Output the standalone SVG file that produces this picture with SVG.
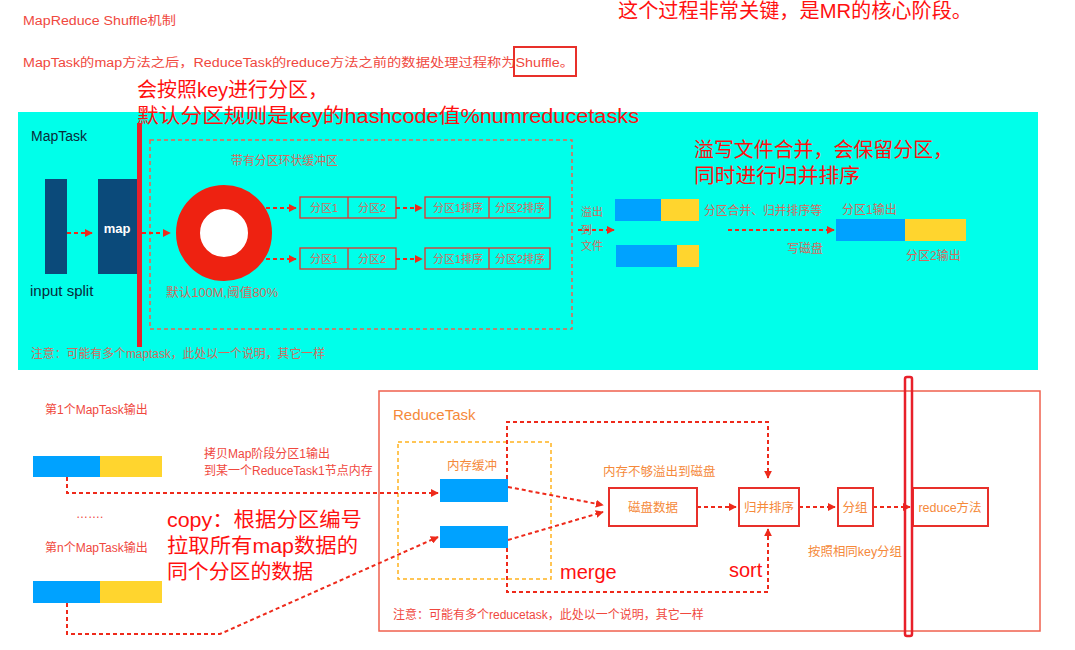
<svg xmlns="http://www.w3.org/2000/svg" width="1075" height="650" viewBox="0 0 1075 650">
<defs>
<marker id="ah" viewBox="0 0 10 10" refX="9" refY="5" markerWidth="4" markerHeight="4" orient="auto" markerUnits="strokeWidth">
<path d="M0,0 L10,5 L0,10 z" fill="#ee2a1b"/>
</marker>
</defs>
<style>
text{font-family:"Liberation Sans","Noto Sans CJK SC",sans-serif}
.sm{font-size:12px;fill:#f0483e}
.big{font-size:20px;fill:#ff1010}
.mut{font-size:12px;fill:#d46a5e}
.pt{font-size:11px;fill:#d46a5e}
.or{font-size:12.5px;fill:#f5893a}
.dash{fill:none;stroke:#ee2a1b;stroke-width:2;stroke-dasharray:4 3}
.pbox{fill:none;stroke:#e8302a;stroke-width:1.3}
.rbox{fill:#fff;stroke:#e8302a;stroke-width:2}
.blue{fill:#00a2ff}
.yel{fill:#ffd52e}
.dk{fill:#0b4a7a}
</style>
<rect width="1075" height="650" fill="#fff"/>

<g id="header">
<text x="23" y="25" class="sm" font-size="14" textLength="153" lengthAdjust="spacingAndGlyphs">MapReduce Shuffle机制</text>
<text x="23" y="67" class="sm" font-size="14" textLength="551" lengthAdjust="spacingAndGlyphs">MapTask的map方法之后，ReduceTask的reduce方法之前的数据处理过程称为Shuffle。</text>
<rect x="514" y="47" width="62" height="29" fill="none" stroke="#e8302a" stroke-width="2"/>
<text x="618" y="18" class="big" font-size="19" textLength="354" lengthAdjust="spacingAndGlyphs">这个过程非常关键，是MR的核心阶段。</text>
</g>

<g id="maptask-area">
<rect x="18" y="112" width="1020" height="258" fill="#00ffea"/>
<text x="31" y="141" font-size="14" fill="#0a2a3a">MapTask</text>
<text x="31" y="358" class="mut" font-size="11" textLength="294" lengthAdjust="spacingAndGlyphs">注意：可能有多个maptask，此处以一个说明，其它一样</text>
</g>

<g id="partition-note">
<text x="137" y="97" class="big" textLength="191" lengthAdjust="spacingAndGlyphs">会按照key进行分区，</text>
<text x="137" y="123" class="big" textLength="502" lengthAdjust="spacingAndGlyphs">默认分区规则是key的hashcode值%numreducetasks</text>
</g>

<g id="input-split">
<rect x="45" y="179" width="22" height="95" class="dk"/>
<text x="30" y="296" font-size="15" fill="#0a2a3a">input split</text>
</g>
<g id="map">
<rect x="98" y="179" width="40" height="95" class="dk"/>
<text x="117" y="233" font-size="13" font-weight="bold" fill="#fff" text-anchor="middle">map</text>
</g>
<g id="red-bar">
<rect x="137" y="123" width="5" height="224" fill="#e8202a"/>
</g>

<g id="ring-buffer">
<rect x="150" y="140" width="422" height="189" fill="none" stroke="#f0604e" stroke-width="1.5" stroke-dasharray="4 3"/>
<text x="231" y="165" class="mut" textLength="107" lengthAdjust="spacingAndGlyphs">带有分区环状缓冲区</text>
<circle cx="224" cy="233" r="36" fill="#fff" stroke="#ee2211" stroke-width="24"/>
<text x="166" y="297" class="mut" textLength="112" lengthAdjust="spacingAndGlyphs">默认100M,阈值80%</text>
</g>

<g id="partitions">
<rect x="300" y="197" width="96" height="21" class="pbox"/><line x1="348" y1="197" x2="348" y2="218" stroke="#e8302a" stroke-width="1.3"/>
<text x="324" y="211.5" class="pt" text-anchor="middle">分区1</text><text x="372" y="211.5" class="pt" text-anchor="middle">分区2</text>
<rect x="300" y="248" width="96" height="21" class="pbox"/><line x1="348" y1="248" x2="348" y2="269" stroke="#e8302a" stroke-width="1.3"/>
<text x="324" y="262.5" class="pt" text-anchor="middle">分区1</text><text x="372" y="262.5" class="pt" text-anchor="middle">分区2</text>
</g>
<g id="sorted">
<rect x="425" y="197" width="125" height="21" class="pbox"/><line x1="489" y1="197" x2="489" y2="218" stroke="#e8302a" stroke-width="1.3"/>
<text x="458" y="211.5" class="pt" text-anchor="middle">分区1排序</text><text x="520" y="211.5" class="pt" text-anchor="middle">分区2排序</text>
<rect x="425" y="248" width="125" height="21" class="pbox"/><line x1="489" y1="248" x2="489" y2="269" stroke="#e8302a" stroke-width="1.3"/>
<text x="458" y="262.5" class="pt" text-anchor="middle">分区1排序</text><text x="520" y="262.5" class="pt" text-anchor="middle">分区2排序</text>
</g>

<g id="spill-files">
<text x="581" y="216" class="pt">溢出</text>
<text x="581" y="234" class="pt">到</text>
<text x="581" y="250" class="pt">文件</text>
<rect x="615" y="199" width="46" height="22" class="blue"/><rect x="661" y="199" width="38" height="22" class="yel"/>
<rect x="616" y="245" width="61" height="22" class="blue"/><rect x="677" y="245" width="22" height="22" class="yel"/>
<text x="704" y="215" class="mut" textLength="118" lengthAdjust="spacingAndGlyphs">分区合并、归并排序等</text>
<text x="787" y="253" class="mut">写磁盘</text>
</g>
<g id="merge-note">
<text x="694" y="157" class="big" font-size="19" textLength="259" lengthAdjust="spacingAndGlyphs">溢写文件合并，会保留分区，</text>
<text x="694" y="183" class="big" font-size="19" textLength="166" lengthAdjust="spacingAndGlyphs">同时进行归并排序</text>
</g>
<g id="output">
<text x="842" y="214" class="mut">分区1输出</text>
<rect x="836" y="219" width="69" height="22" class="blue"/><rect x="905" y="219" width="61" height="22" class="yel"/>
<text x="906" y="260" class="mut">分区2输出</text>
</g>

<g id="map-outputs">
<text x="45" y="414" class="sm" font-size="11">第1个MapTask输出</text>
<rect x="33" y="456" width="67" height="21" class="blue"/><rect x="100" y="456" width="62" height="21" class="yel"/>
<text x="76" y="518" class="sm" font-size="11">…….</text>
<text x="45" y="552" class="sm" font-size="11">第n个MapTask输出</text>
<rect x="33" y="581" width="67" height="22" class="blue"/><rect x="100" y="581" width="62" height="22" class="yel"/>
<text x="204" y="458" class="sm" font-size="11">拷贝Map阶段分区1输出</text>
<text x="204" y="475" class="sm" font-size="11">到某一个ReduceTask1节点内存</text>
</g>
<g id="copy-note">
<text x="167" y="527" class="big" textLength="195" lengthAdjust="spacingAndGlyphs">copy：根据分区编号</text>
<text x="167" y="553" class="big" textLength="191" lengthAdjust="spacingAndGlyphs">拉取所有map数据的</text>
<text x="167" y="579" class="big" textLength="146" lengthAdjust="spacingAndGlyphs">同个分区的数据</text>
</g>

<g id="reducetask">
<rect x="379" y="391" width="661" height="240" fill="none" stroke="#f0604e" stroke-width="1.5"/>
<text x="393" y="420" font-size="15" fill="#f5893a">ReduceTask</text>
<text x="393" y="619" class="sm" font-size="11">注意：可能有多个reducetask，此处以一个说明，其它一样</text>
</g>
<g id="mem-buffer">
<rect x="398" y="442" width="153" height="137" fill="none" stroke="#ffb21e" stroke-width="1.5" stroke-dasharray="4 3"/>
<text x="447" y="470" class="or">内存缓冲</text>
</g>

<g id="connectors">
<path d="M67,233 H92" class="dash" marker-end="url(#ah)"/>
<path d="M142,233 H170" class="dash" marker-end="url(#ah)"/>
<path d="M266,208 H296" class="dash" marker-end="url(#ah)"/>
<path d="M266,259 H296" class="dash" marker-end="url(#ah)"/>
<path d="M396,208 H422" class="dash" marker-end="url(#ah)"/>
<path d="M396,259 H422" class="dash" marker-end="url(#ah)"/>
<path d="M578,230 H614" class="dash" marker-end="url(#ah)"/>
<path d="M728,230 H834" class="dash" marker-end="url(#ah)"/>
<path d="M67,477 V493 H438" class="dash" marker-end="url(#ah)"/>
<path d="M67,603 V634 H220 L438,537" class="dash" marker-end="url(#ah)"/>
<path d="M507,479 V422 H768 V478" class="dash" marker-end="url(#ah)"/>
<path d="M507,548 V592 H768 V529" class="dash" marker-end="url(#ah)"/>
<path d="M508,487 L603,505" class="dash" marker-end="url(#ah)"/>
<path d="M508,540 L603,512" class="dash" marker-end="url(#ah)"/>
<path d="M697,507 H736" class="dash" marker-end="url(#ah)"/>
<path d="M799,507 H835" class="dash" marker-end="url(#ah)"/>
<path d="M873,507 H910" class="dash" marker-end="url(#ah)"/>
</g>

<g id="mem-blocks">
<rect x="440" y="479" width="68" height="23" class="blue"/>
<rect x="440" y="526" width="68" height="22" class="blue"/>
</g>
<g id="disk-data">
<rect x="609" y="488" width="88" height="38" class="rbox"/>
<text x="653" y="512" class="or" text-anchor="middle">磁盘数据</text>
<text x="603" y="476" class="or">内存不够溢出到磁盘</text>
</g>
<g id="merge-sort">
<rect x="739" y="488" width="60" height="38" class="rbox"/>
<text x="769" y="512" class="or" text-anchor="middle">归并排序</text>
</g>
<g id="group">
<rect x="838" y="488" width="35" height="38" class="rbox"/>
<text x="855" y="512" class="or" text-anchor="middle">分组</text>
<text x="808" y="556" class="or" textLength="94" lengthAdjust="spacingAndGlyphs">按照相同key分组</text>
</g>
<g id="reduce-method">
<rect x="913" y="488" width="75" height="38" class="rbox"/>
<text x="950" y="512" class="or" text-anchor="middle">reduce方法</text>
</g>
<g id="labels">
<text x="560" y="579" class="big">merge</text>
<text x="729" y="577" class="big">sort</text>
</g>
<g id="red-divider">
<rect x="905" y="377" width="7" height="259" rx="2" fill="none" stroke="#e8202a" stroke-width="2.5"/>
</g>
</svg>
